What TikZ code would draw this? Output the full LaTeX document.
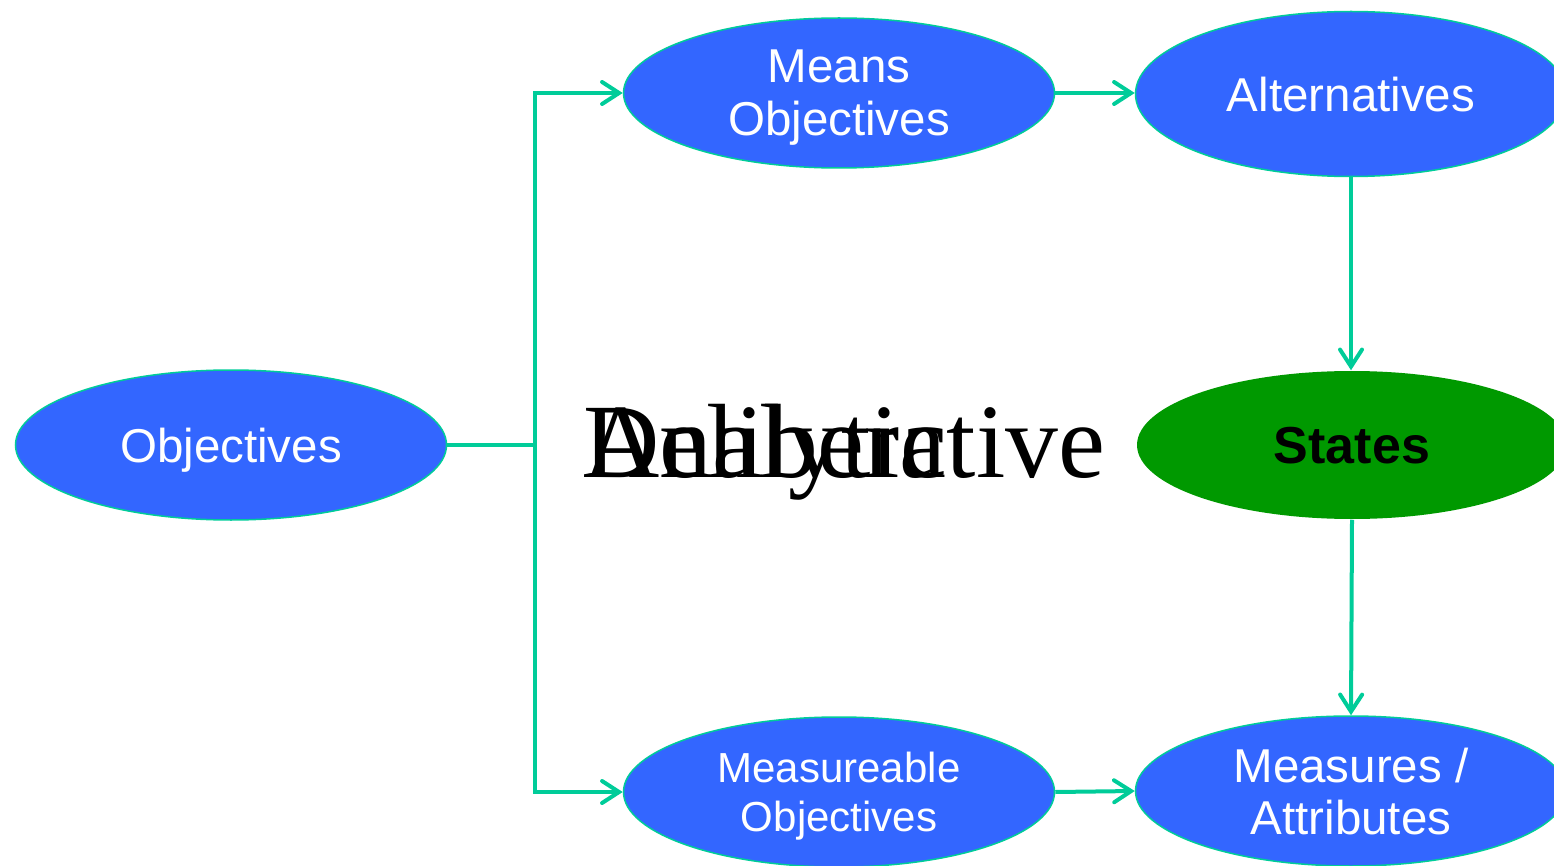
\documentclass[tikz,border=0pt]{standalone}
\usepackage{fontspec}
\setmainfont{Liberation Serif}
\newfontfamily\arialfont{Liberation Sans}
\usetikzlibrary{shapes.geometric,arrows.meta}
\definecolor{nodeblue}{HTML}{3366FF}
\definecolor{linkgreen}{HTML}{00CC99}
\definecolor{stategreen}{HTML}{009900}
\begin{document}
\begin{tikzpicture}[x=1pt,y=-1pt,
  oval/.style={ellipse, inner sep=0pt, minimum width=431pt, minimum height=150pt,
    fill=nodeblue, draw=linkgreen, line width=1.5pt, text=white, align=center,
    text depth=0pt, font=\arialfont\fontsize{47.5}{53}\selectfont},
  link/.style={draw=linkgreen, line width=4pt,
    -{Straight Barb[length=17pt,width=22pt,line width=4pt,line cap=round]}},
  plain/.style={draw=linkgreen, line width=4pt}]
  \useasboundingbox (0,0) rectangle (1554,866);
  \clip (0,0) rectangle (1554,866);

  % ellipses
  \node[oval] (obj) at (231,445) {Objectives};
  \node[oval] (means) at (839,93) {Means\\Objectives};
  \node[oval, minimum height=165pt] (alt) at (1351,94) {Alternatives};
  \node[oval, fill=stategreen, draw=none, minimum width=430pt, minimum height=148pt,
        text=black, font=\arialfont\bfseries\fontsize{52}{55}\selectfont] (states) at (1352,445) {States};
  \node[oval, font=\arialfont\fontsize{42}{49}\selectfont] (mobj) at (839,792) {Measureable\\Objectives};
  \node[oval, font=\arialfont\fontsize{47.5}{52}\selectfont] (attr) at (1351,791) {Measures /\\Attributes};

  % overlapping serif captions
  \node[anchor=base west, inner sep=0pt, font=\fontsize{105.6}{110}\selectfont] (delib) at (583,477) {Deliberative};
  \node[anchor=base west, inner sep=0pt, font=\fontsize{105.6}{110}\selectfont] (analytic) at (583,477) {Analytic};

  % connectors
  \coordinate (split) at (535,445);
  \draw[plain] (obj.east) -- (split);
  \draw[link] (split) |- (means.west);
  \draw[link] (split) |- (mobj.west);
  \draw[link] (means.east) -- (alt.west |- means.east);
  \draw[link] (alt.south) -- (states.north -| alt.south);
  \draw[link] (states.south) -- (attr.north);
  \draw[link] (mobj.east) -- (attr.west);
\end{tikzpicture}
\end{document}
